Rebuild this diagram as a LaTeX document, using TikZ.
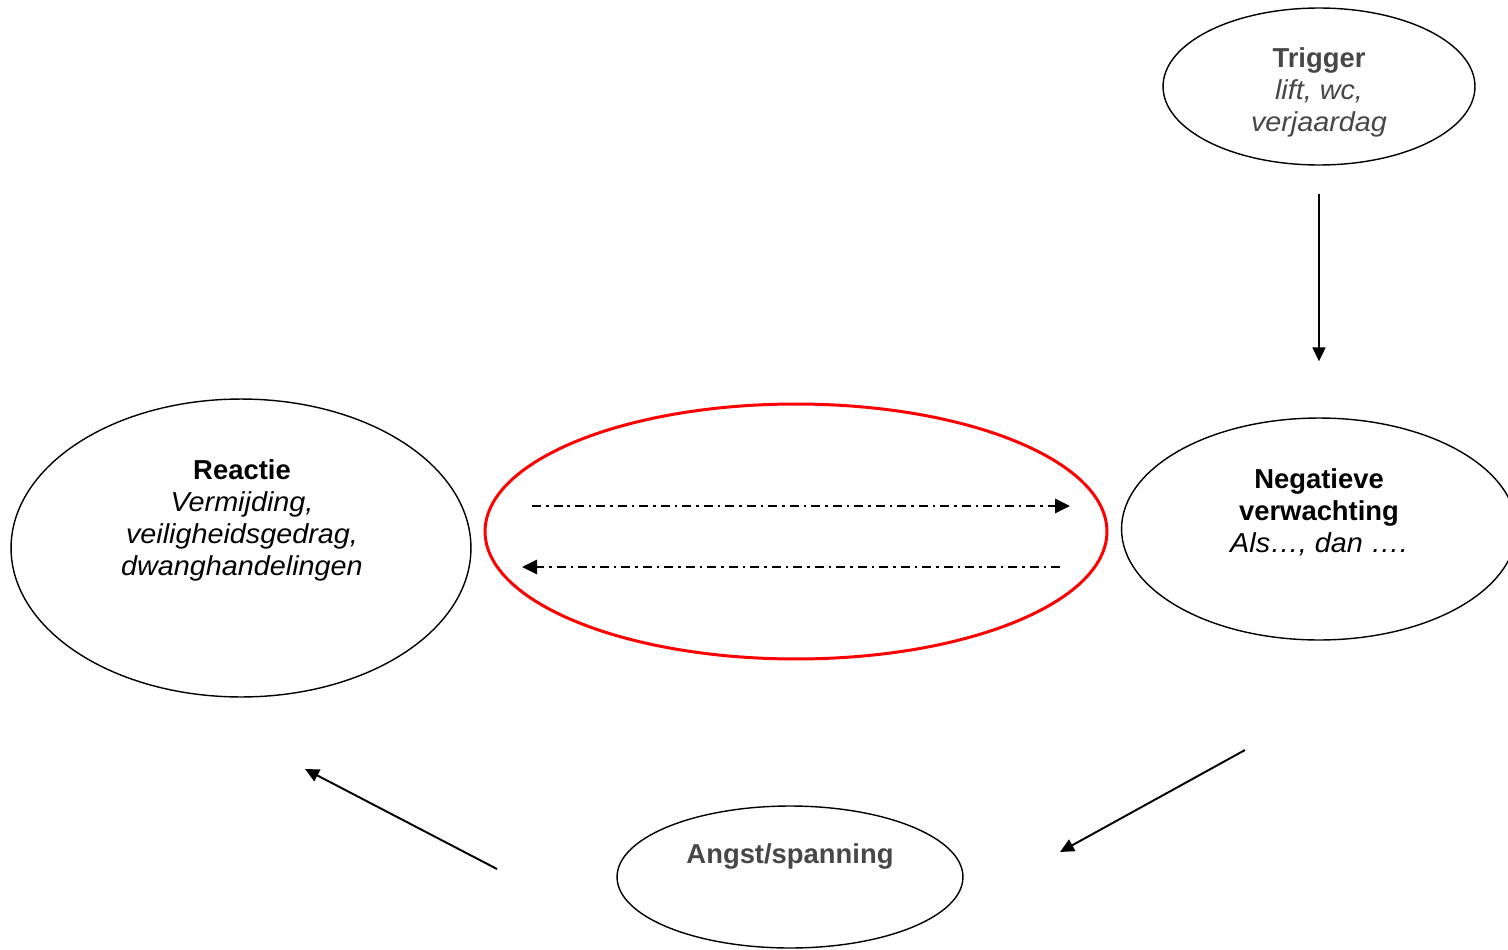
\documentclass[tikz,border=0pt]{standalone}
\usepackage{fontspec}
\setmainfont{Liberation Sans}[ItalicFeatures={FakeStretch=1.05}]
\usetikzlibrary{shapes.geometric,arrows.meta}
\definecolor{txtgray}{HTML}{474747}

\begin{document}
\begin{tikzpicture}[x=0.02cm, y=-0.02cm,
    bubble/.style={ellipse, draw, line width=0.8pt, inner sep=0pt},
    lbl/.style={align=center, font=\fontsize{15.6}{18.2}\selectfont, inner sep=0pt},
    arr/.style={-{Triangle[length=0.28cm,width=0.26cm]}, line width=1.1pt},
    cyclearrow/.style={-{Triangle[length=0.3cm,width=0.28cm]}, line width=1.6pt,
        dash pattern=on 0.18cm off 0.1cm on 0.05cm off 0.1cm}]
    \useasboundingbox (0,0) rectangle (1508,950);

    % ellipses
    \node[bubble, minimum width=6.24cm, minimum height=3.14cm] (trigger) at (1319,86.5) {};
    \node[bubble, minimum width=7.9cm, minimum height=4.44cm] (neg) at (1319,529) {};
    \node[bubble, minimum width=9.2cm, minimum height=5.96cm] (reactie) at (241,548) {};
    \node[bubble, minimum width=6.92cm, minimum height=2.84cm] (angst) at (790,877) {};
    \node[bubble, draw=red, line width=1.7pt, minimum width=12.44cm, minimum height=5.1cm] (cycle) at (796,531.5) {};

    % texts
    \node[lbl, text=txtgray] (triggertxt) at (1319,92) {\textbf{Trigger}\\\textit{lift, wc,}\\\textit{verjaardag}};
    \node[lbl] (negtxt) at (1319,512) {\textbf{Negatieve}\\\textbf{verwachting}\\\textit{Als\ldots, dan \ldots.}};
    \node[lbl] (reactietxt) at (242,520) {\textbf{Reactie}\\\textit{Vermijding,}\\\textit{veiligheidsgedrag,}\\\textit{dwanghandelingen}};
    \node[lbl, text=txtgray] (angsttxt) at (790,856) {\textbf{Angst/spanning}};

    % free ends
    \coordinate (na) at (1245,750);
    \coordinate (nb) at (1060,852);
    \coordinate (aa) at (497,869);
    \coordinate (ab) at (305,769);
    \coordinate (ra) at (532,506);
    \coordinate (rb) at (1070,506);
    \coordinate (la) at (1060,567);
    \coordinate (lb) at (522,567);

    \draw[arr, shorten <=0.56cm, shorten >=1.12cm] (trigger) -- (neg);
    \draw[arr] (na) -- (nb);
    \draw[arr] (aa) -- (ab);
    \draw[cyclearrow] (ra) -- (rb);
    \draw[cyclearrow] (la) -- (lb);
\end{tikzpicture}
\end{document}
